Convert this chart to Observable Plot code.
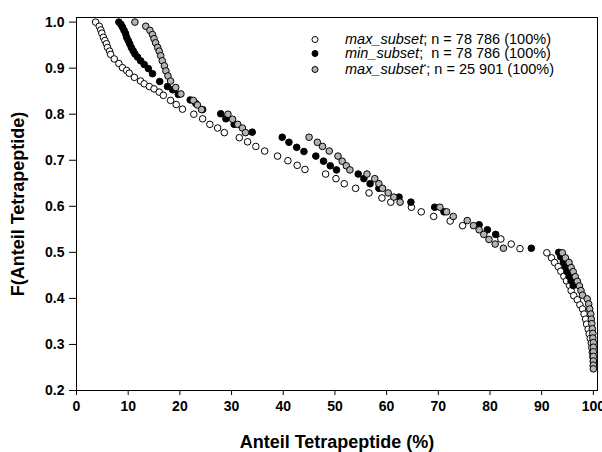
<!DOCTYPE html>
<html><head><meta charset="utf-8">
<script src="https://cdn.jsdelivr.net/npm/d3@7"></script>
<script src="https://cdn.jsdelivr.net/npm/@observablehq/plot@0.6"></script>
<style>
body{margin:0;background:#fff}
#wrap{position:relative;width:602px;height:452px;font-family:"Liberation Sans",Arial,sans-serif}
.row{position:absolute;left:309px;font-size:14.5px;color:#000;white-space:pre;line-height:14px;height:14px}
.row svg{position:absolute;left:0;top:0}
.row span{position:absolute;left:36px;top:0}
sup{font-size:8px;vertical-align:5px;line-height:0}
</style>
</head><body>
<div id="wrap"><div id="chart"></div><div id="legend"></div></div>
<script>
// max_subset (open circles)
const maxX = [3.7,4.4,4.7,4.9,5.2,5.5,5.8,6.0,6.4,6.6,7.3,8.2,8.9,9.7,10.2,11.2,12.4,13.1,14.1,15.0,16.0,16.8,18.2,19.3,20.5,22.7,24.4,25.8,27.3,28.6,31.5,33.1,34.7,36.4,38.9,40.9,42.7,44.2,48.2,50.2,51.8,54.0,56.6,59.1,60.8,64.8,66.7,69.1,72.3,74.7,82.1,84.1,85.8,91.0,91.9,92.5,93.2,93.7,94.3,94.8,95.4,95.7,96.2,96.9,97.4,97.9,98.2,98.5,98.7,99.0,99.2,99.4,99.6,99.7,99.8,99.9,100,100];
const maxY = [1.000,0.991,0.983,0.976,0.967,0.960,0.953,0.945,0.937,0.930,0.920,0.910,0.901,0.895,0.889,0.880,0.872,0.866,0.860,0.855,0.848,0.841,0.830,0.821,0.811,0.800,0.790,0.778,0.770,0.760,0.749,0.740,0.730,0.720,0.709,0.699,0.689,0.680,0.670,0.660,0.649,0.639,0.629,0.618,0.609,0.598,0.588,0.578,0.568,0.558,0.529,0.518,0.508,0.499,0.488,0.478,0.469,0.459,0.448,0.438,0.428,0.417,0.406,0.397,0.386,0.377,0.366,0.355,0.344,0.333,0.323,0.313,0.303,0.293,0.283,0.273,0.263,0.253];
// min_subset (black circles)
const minX = [8.2,8.6,8.9,9.2,9.5,9.7,10.0,10.3,10.6,10.95,11.3,11.8,12.4,13.1,13.9,14.7,16.1,17.6,18.6,19.7,22.0,23.1,24.4,27.9,28.9,30.5,34.0,39.8,41.1,42.6,44.0,46.3,47.8,49.1,50.3,54.5,55.6,56.8,58.5,62.4,64.7,69.3,71.1,77.9,79.5,81.1,88.0,93.3,93.7,94.2,94.6,94.9,95.3,95.7,96.1];
const minY = [1.000,0.995,0.989,0.982,0.975,0.967,0.960,0.953,0.945,0.938,0.931,0.924,0.916,0.908,0.899,0.888,0.871,0.860,0.853,0.843,0.831,0.823,0.810,0.801,0.790,0.778,0.761,0.750,0.739,0.728,0.719,0.709,0.698,0.688,0.679,0.670,0.660,0.649,0.639,0.620,0.609,0.598,0.588,0.560,0.549,0.539,0.509,0.500,0.490,0.479,0.468,0.458,0.448,0.438,0.428];
// max_subset* (grey circles)
const maxsX = [11.3,13.4,14.2,14.7,15.0,15.3,15.7,16.0,16.3,16.6,17.0,17.3,17.7,18.2,19.2,20.2,22.6,23.4,24.2,29.3,30.2,31.2,32.1,32.7,45.0,46.6,47.6,48.9,50.6,51.4,52.2,52.9,56.2,57.7,58.5,59.2,60.3,61.4,62.6,70.3,71.6,72.9,75.6,76.8,77.9,78.8,79.8,81.0,82.6,94.0,94.6,95.3,95.7,96.1,96.5,96.9,97.3,97.6,97.9,98.8,99.1,99.3,99.5,99.6,99.7,99.8,99.9,99.9,100,100,100,100,100,100,100];
const maxsY = [1.000,0.991,0.982,0.973,0.964,0.955,0.945,0.937,0.927,0.916,0.905,0.894,0.883,0.872,0.858,0.844,0.830,0.820,0.810,0.800,0.789,0.778,0.770,0.760,0.750,0.739,0.730,0.720,0.709,0.698,0.688,0.679,0.670,0.660,0.649,0.639,0.629,0.620,0.609,0.598,0.588,0.578,0.569,0.558,0.549,0.539,0.528,0.518,0.509,0.499,0.488,0.478,0.467,0.458,0.447,0.437,0.427,0.417,0.407,0.399,0.388,0.377,0.366,0.355,0.345,0.334,0.324,0.314,0.304,0.294,0.284,0.274,0.264,0.255,0.247];

const xTicks = [0,10,20,30,40,50,60,70,80,90,100];
const yTicks = [0.2,0.3,0.4,0.5,0.6,0.7,0.8,0.9,1.0];

const toRows = (xs, ys) => xs.map((x, i) => ({x, y: ys[i]}));
const open = toRows(maxX, maxY), black = toRows(minX, minY), grey = toRows(maxsX, maxsY);

const chart = Plot.plot({
  width: 602, height: 452,
  marginLeft: 76, marginRight: 5, marginTop: 17, marginBottom: 62,
  style: {fontFamily: '"Liberation Sans", Arial, sans-serif', fontSize: "14px", fontWeight: "bold", color: "#000", background: "#fff"},
  x: {domain: [0, 100.8]},
  y: {domain: [0.2, 1.01]},
  marks: [
    Plot.frame({stroke: "#000", strokeWidth: 1}),
    Plot.axisX({ticks: xTicks, tickSize: 5, tickPadding: 6, tickFormat: d3.format("d"),
      label: "Anteil Tetrapeptide (%)", labelAnchor: "center", labelArrow: "none", labelOffset: 57, fontSize: 14}),
    Plot.axisY({ticks: yTicks, tickSize: 7, tickPadding: 5, tickFormat: d3.format(".1f"),
      label: "F(Anteil Tetrapeptide)", labelAnchor: "center", labelArrow: "none", labelOffset: 65, fontSize: 14}),
    Plot.dot(open, {x: "x", y: "y", r: 3.3, fill: "#fff", stroke: "#000", strokeWidth: 1}),
    Plot.dot(black, {x: "x", y: "y", r: 3.3, fill: "#000", stroke: "#000", strokeWidth: 1}),
    Plot.dot(grey, {x: "x", y: "y", r: 3.3, fill: "#b4b4b4", stroke: "#000", strokeWidth: 1})
  ]
});
chart.querySelectorAll('[aria-label="x-axis label"] text, [aria-label="y-axis label"] text').forEach(t => t.setAttribute("font-size", "18"));
document.getElementById("chart").appendChild(chart);

const legendItems = [
  {name: "max_subset", sup: "", rest: "; n = 78 786 (100%)", fill: "#fff", top: 32},
  {name: "min_subset", sup: "", rest: ";  n = 78 786 (100%)", fill: "#000", top: 46},
  {name: "max_subset", sup: "*", rest: "; n = 25 901 (100%)", fill: "#b4b4b4", top: 62}
];
const leg = document.getElementById("legend");
legendItems.forEach(d => {
  const row = document.createElement("div");
  row.className = "row";
  row.style.top = d.top + "px";
  row.innerHTML = `<svg width="12" height="14"><circle cx="6" cy="7.5" r="3" fill="${d.fill}" stroke="#000" stroke-width="1"/></svg>` +
    `<span><i>${d.name}</i>${d.sup ? "<sup>" + d.sup + "</sup>" : ""}${d.rest}</span>`;
  leg.appendChild(row);
});
</script>
</body></html>
